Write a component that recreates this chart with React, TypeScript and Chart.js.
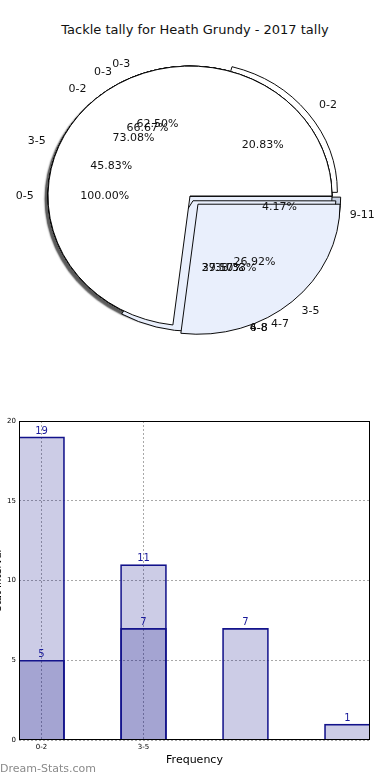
import React, { useEffect, useRef } from 'react';
import { Chart, registerables } from 'chart.js';

Chart.register(...registerables);

const TITLE = 'Tackle tally for Heath Grundy - 2017 tally';
const FONT = '"DejaVu Sans", Verdana, sans-serif';

// ---- Pie layers (matplotlib order: counter-clockwise from 3 o'clock), bottom to top ----
const pieELabels = ['0-5'];
const pieEValues = [24];
const pieALabels = ['0-2', '3-5', '6-8', '9-11'];
const pieAValues = [5, 11, 7, 1];
const pieBLabels = ['0-3', '4-8'];
const pieBValues = [5, 3];
const pieCLabels = ['0-3', '4-7'];
const pieCValues = [2, 1];
const pieDLabels = ['0-2', '3-5'];
const pieDValues = [19, 7];

// ---- Bar chart ----
const barCategories = ['0-2', '3-5', '6-8', '9-11'];
const barTotals = [19, 11, 7, 1];
const barSubset = [5, 7];
const xTickLabels = ['0-2', '3-5'];
const yTickStep = 5;
const yMax = 20;
const xAxisTitle = 'Frequency';
const yAxisTitle = 'Stat Interval';

// styles
const WHITE = '#ffffff';
const PALE = '#e9effc';
const STEEL = '#c6d0e2';
const layers = [
  { labels: pieELabels, values: pieEValues, colors: [WHITE], offsets: [0], shadow: true },
  { labels: pieALabels, values: pieAValues, colors: [WHITE, WHITE, PALE, STEEL], offsets: [26, 0, 0, 20], shadow: false },
  { labels: pieBLabels, values: pieBValues, colors: [WHITE, PALE], offsets: [0, 0], shadow: false },
  { labels: pieCLabels, values: pieCValues, colors: [WHITE, PALE], offsets: [0, 24], shadow: false },
  { labels: pieDLabels, values: pieDValues, colors: [WHITE, PALE], offsets: [0, 48], shadow: false },
];

const R = 142;
const SY = 0.915;

const ellipsePlugin = {
  id: 'ellipse',
  beforeDatasetsDraw(chart: any, _args: any, opts: any) {
    const a = chart.getDatasetMeta(0).data[0];
    const ctx = chart.ctx;
    ctx.save();
    ctx.translate(a.x, a.y);
    ctx.scale(1, SY);
    ctx.translate(-a.x, -a.y);
    if (opts && opts.shadow) {
      ctx.shadowColor = 'rgba(0,0,0,0.65)';
      ctx.shadowOffsetX = -3;
      ctx.shadowOffsetY = 3;
      ctx.shadowBlur = 1.5;
    }
  },
  afterDatasetsDraw(chart: any) {
    chart.ctx.restore();
  },
};

function makeLabelPlugin(prev: any[]) {
  return {
    id: 'pieLabels',
    afterDraw(chart: any) {
      const ctx = chart.ctx;
      const all = [...prev, chart];
      ctx.save();
      ctx.font = `11px ${FONT}`;
      ctx.fillStyle = '#111';
      ctx.textBaseline = 'middle';
      all.forEach((c) => {
        const meta = c.getDatasetMeta(0);
        const ds = c.data.datasets[0];
        const total = ds.data.reduce((s: number, v: number) => s + v, 0);
        meta.data.forEach((arc: any, i: number) => {
          const p = arc.getProps(['x', 'y', 'startAngle', 'endAngle'], true);
          const mid = (p.startAngle + p.endAngle) / 2;
          const off = (arc.options.offset || 0) / 4;
          const cx = Math.cos(mid);
          const sy = Math.sin(mid);
          const ex = p.x + cx * off;
          const ey = p.y + sy * off * SY;
          ctx.textAlign = cx > 0 ? 'left' : 'right';
          ctx.fillText(c.data.labels[i], ex + cx * R * 1.1, ey + sy * R * 1.1 * SY);
          ctx.textAlign = 'center';
          const pct = ((ds.data[i] / total) * 100).toFixed(2) + '%';
          ctx.fillText(pct, ex + cx * R * 0.6, ey + sy * R * 0.6 * SY);
        });
      });
      ctx.restore();
    },
  };
}

const barValuePlugin = {
  id: 'barValues',
  afterDatasetsDraw(chart: any) {
    const ctx = chart.ctx;
    ctx.save();
    ctx.font = `10px ${FONT}`;
    ctx.fillStyle = '#1a1a9a';
    ctx.textAlign = 'center';
    ctx.textBaseline = 'bottom';
    chart.data.datasets.forEach((ds: any, di: number) => {
      chart.getDatasetMeta(di).data.forEach((bar: any, i: number) => {
        ctx.fillText(String(ds.data[i].y), bar.x, bar.y - 1);
      });
    });
    ctx.restore();
  },
};

const framePlugin = {
  id: 'frame',
  afterDraw(chart: any) {
    const { left, top, right, bottom } = chart.chartArea;
    const ctx = chart.ctx;
    ctx.save();
    ctx.strokeStyle = '#000';
    ctx.lineWidth = 1;
    ctx.strokeRect(left + 0.5, top + 0.5, right - left - 1, bottom - top - 1);
    ctx.restore();
  },
};

export default function App() {
  const pieRefs = useRef<(HTMLCanvasElement | null)[]>([]);
  const barRef = useRef<HTMLCanvasElement | null>(null);

  useEffect(() => {
    const charts: any[] = [];
    layers.forEach((layer, li) => {
      const canvas = pieRefs.current[li];
      if (!canvas) return;
      const isTop = li === layers.length - 1;
      const plugins: any[] = [ellipsePlugin];
      if (isTop) plugins.push(makeLabelPlugin(charts.slice()));
      const chart = new Chart(canvas, {
        type: 'pie',
        data: {
          labels: layer.labels.slice().reverse(),
          datasets: [
            {
              data: layer.values.slice().reverse(),
              backgroundColor: layer.colors.slice().reverse(),
              borderColor: '#000',
              borderWidth: 1,
              offset: layer.offsets.slice().reverse(),
              hoverOffset: 0,
              radius: R,
              clip: false,
            } as any,
          ],
        },
        options: {
          animation: false,
          responsive: false,
          maintainAspectRatio: false,
          rotation: 90,
          events: [],
          layout: { padding: { right: 10, bottom: 8 } },
          plugins: {
            legend: { display: false },
            tooltip: { enabled: false },
            ellipse: { shadow: layer.shadow },
          } as any,
        } as any,
        plugins,
      });
      charts.push(chart);
    });

    let bar: any = null;
    if (barRef.current) {
      const style = {
        backgroundColor: 'rgba(0,0,128,0.2)',
        borderColor: '#14148c',
        borderWidth: 1,
        barThickness: 46,
        grouped: false,
      };
      bar = new Chart(barRef.current, {
        type: 'bar',
        data: {
          datasets: [
            { label: 'subset', data: barSubset.map((v, i) => ({ x: i, y: v })), ...style } as any,
            { label: 'total', data: barTotals.map((v, i) => ({ x: i, y: v })), ...style } as any,
          ],
        },
        options: {
          animation: false,
          responsive: false,
          maintainAspectRatio: false,
          events: [],
          layout: { padding: { top: 21, right: 20, left: 0, bottom: 0 } },
          plugins: { legend: { display: false }, tooltip: { enabled: false } },
          scales: {
            x: {
              type: 'linear',
              offset: false,
              min: -0.221,
              max: barCategories.length - 1 + 0.221,
              afterBuildTicks: (s: any) => {
                s.ticks = xTickLabels.map((_, i) => ({ value: i }));
              },
              afterFit: (s: any) => {
                s.height = 40;
              },
              ticks: {
                callback: (v: any) => xTickLabels[v] ?? '',
                font: { size: 7, family: FONT },
                color: '#000',
                padding: 3,
                maxRotation: 0,
                autoSkip: false,
              },
              grid: { color: '#a8a8a8', lineWidth: 1, drawTicks: false, offset: false },
              border: { display: false, dash: [2, 2] },
              title: {
                display: true,
                text: xAxisTitle,
                font: { size: 11, family: FONT },
                color: '#000',
                padding: { top: 0, bottom: 13 },
              },
            },
            y: {
              min: 0,
              max: yMax,
              afterFit: (s: any) => {
                s.width = 19;
              },
              ticks: { stepSize: yTickStep, font: { size: 7, family: FONT }, color: '#000', padding: 3 },
              grid: { color: '#a8a8a8', lineWidth: 1, drawTicks: false },
              border: { display: false, dash: [2, 2] },
              title: {
                display: true,
                text: yAxisTitle,
                font: { size: 10, family: FONT },
                color: '#000',
                padding: { top: -8, bottom: 0 },
              },
            },
          },
        } as any,
        plugins: [barValuePlugin, framePlugin],
      });
    }

    return () => {
      charts.forEach((c) => c.destroy());
      if (bar) bar.destroy();
    };
  }, []);

  return (
    <div
      style={{
        position: 'fixed',
        left: 0,
        top: 0,
        width: 390,
        height: 780,
        background: '#fff',
        overflow: 'hidden',
      }}
    >
      <div
        style={{
          position: 'absolute',
          left: 0,
          top: 22,
          width: 390,
          textAlign: 'center',
          font: `13px ${FONT}`,
          lineHeight: '16px',
          color: '#111',
        }}
      >
        {TITLE}
      </div>
      {layers.map((_, i) => (
        <canvas
          key={i}
          ref={(el) => {
            pieRefs.current[i] = el;
          }}
          width={390}
          height={400}
          style={{ position: 'absolute', left: 0, top: 0, width: 390, height: 400 }}
        />
      ))}
      <canvas
        ref={barRef}
        width={390}
        height={380}
        style={{ position: 'absolute', left: 0, top: 400, width: 390, height: 380 }}
      />
      <div
        style={{
          position: 'absolute',
          left: 0,
          top: 762,
          font: `11px ${FONT}`,
          lineHeight: '13px',
          color: '#8a8a8a',
        }}
      >
        Dream-Stats.com
      </div>
    </div>
  );
}
